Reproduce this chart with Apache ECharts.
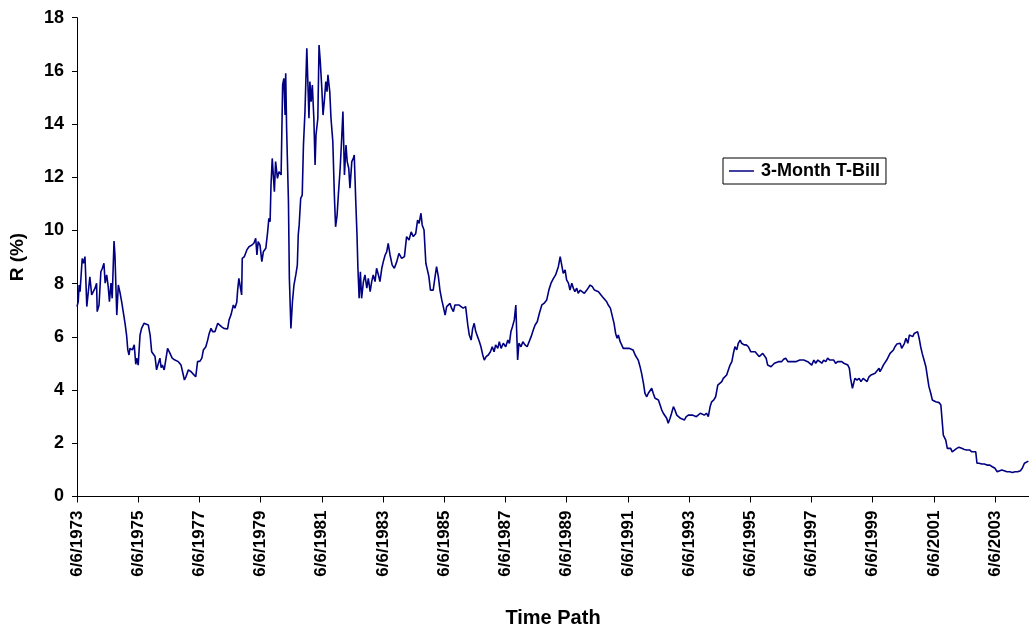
<!DOCTYPE html>
<html>
<head>
<meta charset="utf-8">
<script src="https://cdn.jsdelivr.net/npm/echarts@6/dist/echarts.min.js"></script>
<style>
html,body{margin:0;padding:0;background:#fff;}
#c{width:1029px;height:631px;}
</style>
</head>
<body>
<div id="c"></div>
<script>
// Years elapsed since 6/6/1973
const tYears = [
0,0.04,0.07,0.10,0.17,0.21,0.26,0.28,0.32,0.37,0.42,0.48,0.53,0.59,0.64,0.66,0.72,0.78,0.83,0.88,0.92,0.97,1.02,1.06,1.11,1.15,1.21,1.24,1.30,1.35,1.41,1.46,1.51,1.57,1.62,1.66,1.70,1.73,1.81,1.87,1.92,1.95,2.00,2.06,2.11,2.19,2.25,2.33,2.39,2.44,2.49,2.55,2.60,2.66,2.71,2.75,2.79,2.85,2.90,2.96,3.04,3.11,3.20,3.31,3.40,3.45,3.51,3.56,3.64,3.73,3.80,3.88,3.94,4.02,4.08,4.13,4.21,4.27,4.32,4.38,4.43,4.51,4.60,4.65,4.73,4.80,4.86,4.92,4.97,5.03,5.08,5.11,5.16,5.22,5.25,5.29,
5.33,5.38,5.40,5.47,5.55,5.62,5.71,5.78,5.84,5.88,5.92,5.98,6.04,6.09,6.17,6.23,6.27,6.31,6.34,6.38,6.45,6.49,6.55,6.60,6.67,6.72,6.76,6.80,6.82,6.85,6.91,6.94,6.99,7.04,7.09,7.15,7.20,7.23,7.26,7.31,7.36,7.40,7.45,7.51,7.54,7.58,7.61,7.65,7.69,7.74,7.78,7.81,7.87,7.91,7.95,8.00,8.04,8.08,8.13,8.17,8.20,8.26,8.30,8.36,8.41,8.45,8.50,8.54,8.60,8.65,8.69,8.74,8.79,8.83,8.88,8.92,8.98,9.03,9.06,9.11,9.15,9.18,9.22,9.26,9.30,9.36,9.41,9.47,9.52,9.58,9.63,9.68,9.74,9.79,9.85,9.90,9.96,10.01,10.07,10.12,10.17,10.23,10.30,10.37,
10.45,10.52,10.61,10.70,10.77,10.85,10.92,10.99,11.07,11.13,11.18,11.24,11.28,11.34,11.40,11.45,11.50,11.55,11.59,11.64,11.70,11.75,11.81,11.86,11.92,11.97,12.03,12.08,12.13,12.19,12.24,12.30,12.35,12.41,12.48,12.55,12.62,12.70,12.77,12.82,12.88,12.93,12.98,13.03,13.09,13.15,13.20,13.26,13.31,13.37,13.44,13.51,13.57,13.63,13.68,13.75,13.80,13.86,13.93,14.01,14.08,14.13,14.18,14.23,14.29,14.34,14.37,14.40,14.44,14.51,14.57,14.64,14.71,14.77,14.84,14.91,14.97,15.04,15.11,15.19,15.26,15.35,15.42,15.49,15.57,15.64,15.73,
15.79,15.84,15.89,15.95,16.00,16.06,16.11,16.17,16.22,16.27,16.33,16.38,16.44,16.49,16.58,16.66,16.71,16.77,16.84,16.91,16.97,17.04,17.10,17.17,17.23,17.31,17.36,17.43,17.49,17.55,17.60,17.65,17.69,17.75,17.80,17.85,17.91,17.97,18.04,18.10,18.17,18.24,18.29,18.34,18.40,18.45,18.51,18.56,18.62,18.67,18.73,18.78,18.83,18.89,18.94,19.00,19.05,19.11,19.16,19.22,19.27,19.32,19.38,19.43,19.49,19.54,19.60,19.65,19.72,19.78,19.85,19.91,19.98,20.04,20.11,20.17,20.24,20.30,20.37,20.43,20.50,20.57,20.63,20.69,20.74,20.81,20.87,20.94,21.00,
21.07,21.12,21.18,21.23,21.28,21.34,21.40,21.45,21.50,21.56,21.61,21.67,21.72,21.80,21.87,21.94,22.02,22.08,22.16,22.22,22.29,22.35,22.41,22.46,22.52,22.57,22.62,22.68,22.74,22.79,22.85,22.92,22.97,23.03,23.09,23.16,23.23,23.29,23.36,23.42,23.49,23.55,23.62,23.68,23.75,23.81,23.88,23.94,24.01,24.08,24.14,24.21,24.27,24.34,24.40,24.47,24.53,24.60,24.66,24.73,24.79,24.86,24.92,24.99,25.06,25.12,25.19,25.24,25.28,25.34,25.38,25.42,25.49,25.56,25.62,25.69,25.75,25.82,25.88,25.95,26.01,26.08,26.14,26.21,
26.24,26.30,26.35,26.41,26.46,26.51,26.57,26.62,26.68,26.73,26.79,26.84,26.90,26.95,26.98,27.04,27.09,27.15,27.20,27.26,27.31,27.36,27.42,27.47,27.52,27.57,27.62,27.68,27.74,27.79,27.84,27.90,27.95,28.01,28.06,28.11,28.17,28.23,28.28,28.31,28.34,28.39,28.44,28.50,28.55,28.60,28.66,28.75,28.82,28.91,29.00,29.08,29.17,29.24,29.30,29.37,29.41,29.48,29.57,29.65,29.74,29.83,29.91,30.00,30.07,30.13,30.22,30.30,30.39,30.48,30.57,30.65,30.74,30.83,30.89,30.96,31.02,31.09
];
// 3-Month T-Bill rate (%)
const rate = [
7.14,7.32,7.95,7.70,8.95,8.77,9.02,8.45,7.14,7.08,8.26,7.58,7.51,7.83,8.02,6.95,7.20,8.45,8.58,8.77,8.02,8.33,7.89,7.32,8.02,7.45,9.60,9.08,6.82,7.95,7.64,7.32,6.95,6.51,6.07,5.51,5.32,5.57,5.51,5.70,4.97,5.20,4.94,6.07,6.32,6.51,6.55,6.45,6.07,5.44,5.51,5.26,4.76,5.01,5.20,4.84,4.94,4.76,4.79,5.57,5.38,5.20,5.13,5.07,4.94,4.69,4.38,4.50,4.76,4.69,4.60,4.50,5.07,5.09,5.20,5.51,5.63,5.88,6.13,6.32,6.20,6.20,6.51,6.45,6.38,6.32,6.38,6.30,6.64,6.82,6.76,7.20,7.08,7.30,7.76,8.20,
8.20,7.58,8.95,9.02,9.27,9.39,9.45,9.52,9.71,9.08,9.58,9.45,8.83,9.20,9.33,9.95,10.46,10.33,11.71,12.71,11.46,12.59,11.96,12.21,12.09,15.47,15.72,14.34,15.91,13.84,11.08,8.20,6.32,7.32,7.95,8.33,8.70,9.83,10.21,11.21,11.33,13.21,14.47,16.85,15.72,14.22,15.60,14.84,15.47,14.22,12.46,13.59,14.22,16.97,16.35,15.35,14.34,14.84,15.60,15.22,15.85,15.22,14.22,13.34,11.33,10.14,10.58,11.33,12.34,13.47,14.47,12.09,13.21,12.59,12.34,11.59,12.59,12.71,12.84,11.08,9.83,8.58,7.45,8.45,7.45,8.08,8.33,7.83,8.20,7.70,8.08,8.33,8.08,8.58,8.33,8.08,8.58,8.83,9.08,9.20,9.52,9.08,8.70,8.58,
8.83,9.14,8.95,9.02,9.77,9.64,9.95,9.77,9.89,10.39,10.27,10.65,10.21,10.02,8.77,8.52,8.26,7.76,7.70,7.76,8.26,8.64,8.26,7.76,7.39,7.14,6.82,7.14,7.20,7.26,7.08,6.95,7.20,7.26,7.20,7.14,7.08,7.14,6.45,6.07,5.88,6.32,6.51,6.20,6.01,5.82,5.63,5.32,5.13,5.26,5.32,5.44,5.63,5.44,5.70,5.57,5.82,5.57,5.76,5.63,5.88,5.76,6.20,6.38,6.64,7.20,6.14,5.13,5.76,5.63,5.82,5.70,5.63,5.70,6.01,6.26,6.45,6.57,6.89,7.20,7.26,7.39,7.76,8.02,8.20,8.33,8.64,
9.02,8.70,8.39,8.52,8.14,8.02,7.76,8.02,7.83,7.70,7.83,7.64,7.76,7.70,7.64,7.76,7.83,7.95,7.89,7.76,7.83,7.70,7.76,7.51,7.45,7.32,7.20,7.08,7.01,6.51,6.14,5.95,6.07,5.82,5.70,5.57,5.51,5.57,5.57,5.63,5.51,5.32,5.26,5.13,4.88,4.63,4.26,3.88,3.75,3.88,3.94,4.07,3.88,3.69,3.69,3.63,3.56,3.25,3.13,3.06,2.94,2.75,2.94,3.13,3.38,3.25,3.06,3.00,2.94,2.94,2.88,3.00,3.06,3.13,3.06,3.06,3.00,3.00,3.13,3.13,3.06,3.13,3.00,3.38,3.56,3.63,3.75,4.19,4.19,
4.32,4.44,4.38,4.57,4.63,4.94,5.07,5.38,5.63,5.51,5.76,5.88,5.76,5.70,5.70,5.63,5.44,5.51,5.44,5.38,5.26,5.32,5.38,5.38,5.20,4.94,5.01,4.88,4.94,5.01,5.01,5.07,5.13,5.07,5.16,5.20,5.07,5.01,5.07,5.01,5.07,5.07,5.13,5.07,5.13,5.16,5.07,5.13,4.94,5.13,5.01,5.13,5.07,5.01,5.13,5.07,5.20,5.13,5.07,5.13,5.01,5.07,5.01,5.07,5.01,5.01,4.94,4.82,4.44,4.07,4.13,4.44,4.38,4.44,4.32,4.44,4.50,4.32,4.50,4.57,4.50,4.63,4.69,4.82,
4.69,4.82,4.94,5.01,5.13,5.20,5.38,5.44,5.51,5.63,5.73,5.70,5.76,5.57,5.51,5.76,5.95,5.76,6.07,6.13,6.01,6.13,6.20,6.20,5.95,5.63,5.38,5.13,4.88,4.50,4.13,3.88,3.63,3.69,3.56,3.63,3.53,3.44,3.38,2.31,2.25,2.12,1.81,1.75,1.81,1.68,1.75,1.81,1.85,1.81,1.77,1.75,1.75,1.68,1.62,1.68,1.25,1.25,1.22,1.22,1.18,1.18,1.12,1.06,0.93,1.00,1.00,0.97,0.93,0.93,0.90,0.93,0.93,0.97,1.06,1.25,1.31,1.33
];
const tickYears = [1973,1975,1977,1979,1981,1983,1985,1987,1989,1991,1993,1995,1997,1999,2001,2003];
const startYear = 1973;
const seriesName = '3-Month T-Bill';

const data = tYears.map((t, i) => [t, rate[i]]);
const tickOffsets = tickYears.map(y => y - startYear);

const chart = echarts.init(document.getElementById('c'), null, {renderer: 'canvas'});
const FONT = 'Liberation Sans, Arial, sans-serif';
chart.setOption({
  animation: false,
  backgroundColor: '#fff',
  grid: {left: 77, right: 0, top: 17.7, bottom: 134.5, containLabel: false, outerBoundsMode: 'none'},
  legend: {
    data: [{name: seriesName, icon: 'rect'}],
    left: 723, top: 158,
    orient: 'vertical',
    borderColor: '#000', borderWidth: 1,
    backgroundColor: '#fff',
    padding: [4, 6, 4, 6],
    itemWidth: 25, itemHeight: 1.5, itemGap: 5,
    itemStyle: {color: '#000080'},
    textStyle: {fontFamily: FONT, fontWeight: 'bold', fontSize: 18, color: '#000', padding: [0, 0, 0, 2]}
  },
  xAxis: {
    type: 'value',
    min: 0, max: 31.11,
    name: 'Time Path', nameLocation: 'middle', nameGap: 112,
    nameTextStyle: {fontFamily: FONT, fontWeight: 'bold', fontSize: 20, color: '#000'},
    axisLine: {show: true, onZero: false, lineStyle: {color: '#000', width: 1}},
    axisTick: {show: true, length: 6, lineStyle: {color: '#000'}, customValues: tickOffsets},
    axisLabel: {
      rotate: 90, margin: 14, customValues: tickOffsets,
      fontFamily: FONT, fontWeight: 'bold', fontSize: 17, color: '#000',
      formatter: v => '6/6/' + Math.round(startYear + v)
    },
    splitLine: {show: false}
  },
  yAxis: {
    type: 'value',
    min: 0, max: 18, interval: 2,
    name: 'R (%)', nameLocation: 'middle', nameGap: 50,
    nameTextStyle: {fontFamily: FONT, fontWeight: 'bold', fontSize: 19, color: '#000'},
    axisLine: {show: true, lineStyle: {color: '#000', width: 1}},
    axisTick: {show: true, length: 5, lineStyle: {color: '#000'}},
    axisLabel: {margin: 13, fontFamily: FONT, fontWeight: 'bold', fontSize: 18, color: '#000'},
    splitLine: {show: false}
  },
  series: [{
    name: seriesName,
    type: 'line',
    data: data,
    symbol: 'none',
    lineStyle: {color: '#000080', width: 1.6},
    itemStyle: {color: '#000080'}
  }]
});
</script>
</body>
</html>
